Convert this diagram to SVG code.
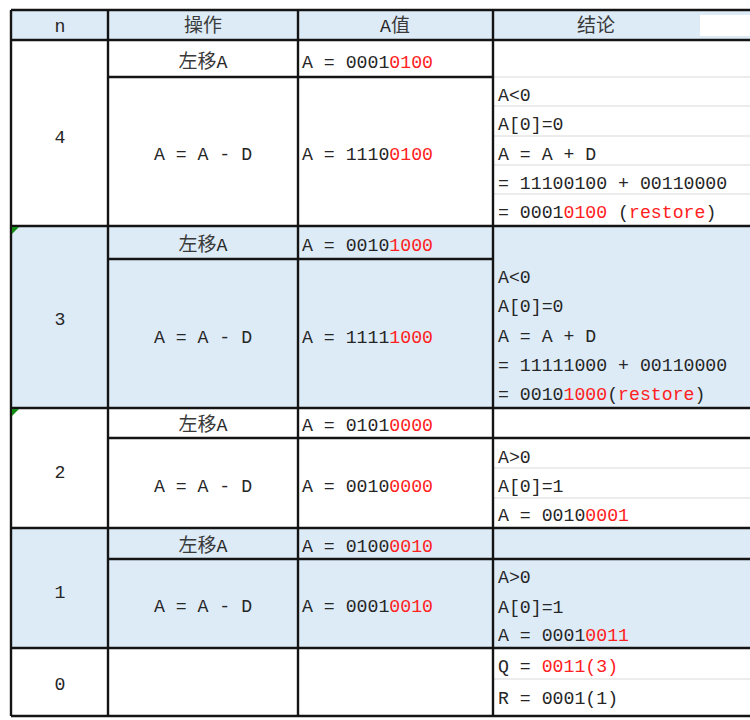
<svg xmlns="http://www.w3.org/2000/svg" width="750" height="720" viewBox="0 0 750 720">
<style>
.t{font-family:"Liberation Mono","Noto Sans CJK SC",monospace;font-size:18.2px;fill:#262626}
.c{font-family:"Noto Sans CJK SC","Liberation Mono",sans-serif;font-size:19px;fill:#3a3a3a}
.m{text-anchor:middle}
.r{fill:#ff2020}
.bg{fill:#DDEBF7}
.b{stroke:#141414;stroke-width:2.4;fill:none}
.g{stroke:#d9d9d9;stroke-width:1.2;fill:none}
.tri{fill:#138a13}
</style>
<rect width="750" height="720" fill="#ffffff"/>
<g id="backgrounds">
<rect class="bg" x="11" y="10" width="739" height="30"/>
<rect x="700" y="15" width="50" height="21" fill="#ffffff"/>
<rect class="bg" x="11" y="226" width="739" height="182"/>
<rect class="bg" x="11" y="528" width="739" height="120"/>
</g>
<g id="grid">
<path class="g" d="M493 77H750M493 106H750M493 136H750M493 165H750M493 194H750M493 468H750M493 498H750M493 679H750"/>
<path class="b" d="M11 10H750M11 40H750M108 77H493M11 226H750M108 259H493M11 408H750M108 438H750M11 528H750M108 559H750M11 648H750M11 716H750"/>
<path class="b" d="M11 10V716M108 10V716M298 10V716M493 10V716"/>
<polygon class="tri" points="12,227 19,227 12,234"/>
<polygon class="tri" points="12,409 19,409 12,416"/>
</g>
<g id="header">
<text class="t m" x="60" y="32">n</text>
<text class="c m" x="203" y="32">操作</text>
<text class="t m" x="395" y="32">A<tspan class="c">值</tspan></text>
<text class="c m" x="596" y="32">结论</text>
</g>
<g id="row-n4">
<text class="t m" x="60" y="143">4</text>
<text class="c m" x="203" y="68">左移<tspan class="t">A</tspan></text>
<text class="t m" x="203" y="160">A = A - D</text>
<text class="t" x="302" y="68">A = 0001<tspan class="r">0100</tspan></text>
<text class="t" x="302" y="160">A = 1110<tspan class="r">0100</tspan></text>
<text class="t" x="498" y="101">A&lt;0</text>
<text class="t" x="498" y="130">A[0]=0</text>
<text class="t" x="498" y="160">A = A + D</text>
<text class="t" x="498" y="189">= 11100100 + 00110000</text>
<text class="t" x="498" y="218">= 0001<tspan class="r">0100</tspan> (<tspan class="r">restore</tspan>)</text>
</g>
<g id="row-n3">
<text class="t m" x="60" y="325">3</text>
<text class="c m" x="203" y="251">左移<tspan class="t">A</tspan></text>
<text class="t m" x="203" y="343">A = A - D</text>
<text class="t" x="302" y="251">A = 0010<tspan class="r">1000</tspan></text>
<text class="t" x="302" y="343">A = 1111<tspan class="r">1000</tspan></text>
<text class="t" x="498" y="283">A&lt;0</text>
<text class="t" x="498" y="312">A[0]=0</text>
<text class="t" x="498" y="342">A = A + D</text>
<text class="t" x="498" y="371">= 11111000 + 00110000</text>
<text class="t" x="498" y="400">= 0010<tspan class="r">1000</tspan>(<tspan class="r">restore</tspan>)</text>
</g>
<g id="row-n2">
<text class="t m" x="60" y="478">2</text>
<text class="c m" x="203" y="431">左移<tspan class="t">A</tspan></text>
<text class="t m" x="203" y="492">A = A - D</text>
<text class="t" x="302" y="431">A = 0101<tspan class="r">0000</tspan></text>
<text class="t" x="302" y="492">A = 0010<tspan class="r">0000</tspan></text>
<text class="t" x="498" y="463">A&gt;0</text>
<text class="t" x="498" y="492">A[0]=1</text>
<text class="t" x="498" y="521">A = 0010<tspan class="r">0001</tspan></text>
</g>
<g id="row-n1">
<text class="t m" x="60" y="598">1</text>
<text class="c m" x="203" y="552">左移<tspan class="t">A</tspan></text>
<text class="t m" x="203" y="612">A = A - D</text>
<text class="t" x="302" y="552">A = 0100<tspan class="r">0010</tspan></text>
<text class="t" x="302" y="612">A = 0001<tspan class="r">0010</tspan></text>
<text class="t" x="498" y="583">A&gt;0</text>
<text class="t" x="498" y="613">A[0]=1</text>
<text class="t" x="498" y="641">A = 0001<tspan class="r">0011</tspan></text>
</g>
<g id="row-n0">
<text class="t m" x="60" y="690">0</text>
<text class="t" x="498" y="672">Q = <tspan class="r">0011(3)</tspan></text>
<text class="t" x="498" y="704">R = 0001(1)</text>
</g>
</svg>
